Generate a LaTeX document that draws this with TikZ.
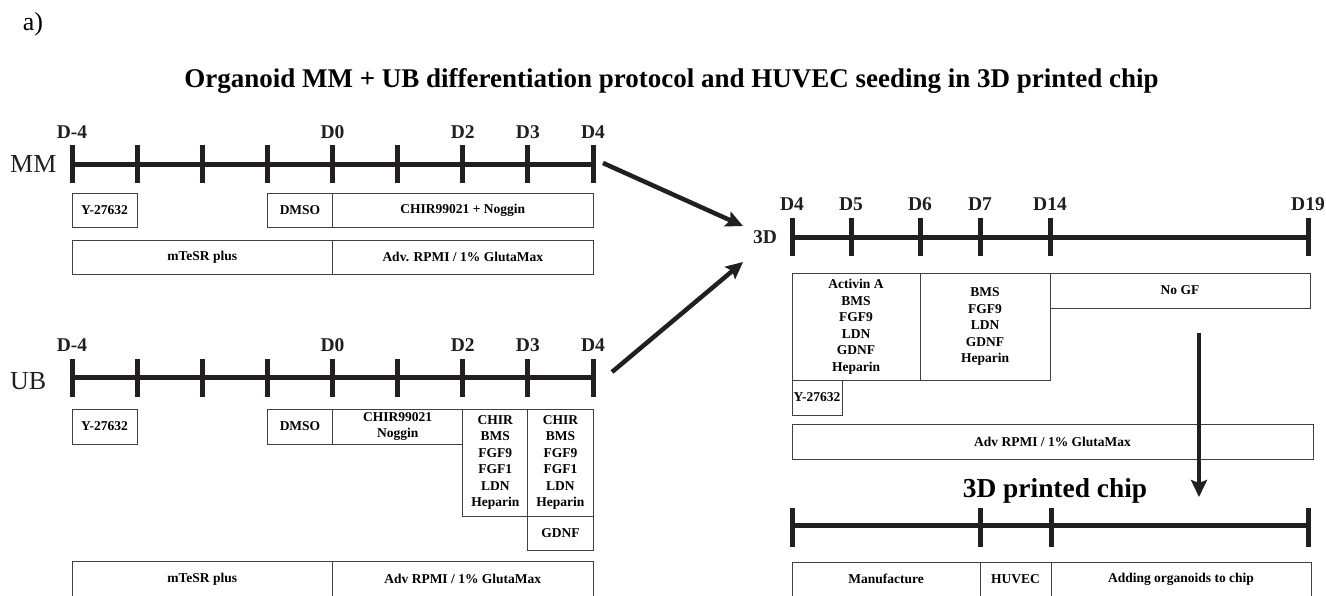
\documentclass[tikz,border=0pt]{standalone}
\usepackage{fontspec}
\setmainfont{Liberation Serif}
\usepackage{tikz}
\usetikzlibrary{positioning, arrows.meta}
\definecolor{lineBlack}{RGB}{35,31,32}
\definecolor{boxGrey}{RGB}{64,64,64}
\tikzstyle{timeLine} = [
    draw=lineBlack,
    line width=5pt
    ]
\tikzstyle{tickLine} = [
    draw=lineBlack,
    line width=5pt
    ]
\tikzstyle{dayLabel} = [
    inner sep=0pt,
    text=lineBlack,
    font=\bfseries\fontsize{19.5}{20}\selectfont
    ]
\tikzstyle{rowLabel} = [
    inner sep=0pt,
    anchor=west,
    text=lineBlack,
    font=\fontsize{26}{28}\selectfont
    ]
\tikzstyle{stepBox} = [
    rectangle,
    draw=boxGrey,
    line width=1pt,
    inner sep=0pt,
    align=center,
    font=\bfseries\fontsize{13.5}{16.5}\selectfont
    ]
\tikzstyle{flowArrow} = [
    draw=lineBlack,
    line width=4.5pt,
    -{Stealth[length=17pt, width=16pt, inset=3pt]}
    ]

\begin{document}
\begin{tikzpicture}[x=1pt, y=-1pt]
      \fill[white] (0,0) rectangle (1326,595);
      \useasboundingbox (0,0) rectangle (1326,595);
      \node[font=\fontsize{26}{28}\selectfont, inner sep=0pt] at (33,24) (panel) {a)};
      \node[font=\bfseries\fontsize{27}{30}\selectfont, anchor=base, inner sep=0pt] at (671.5,87) (title) {Organoid MM + UB differentiation protocol and HUVEC seeding in 3D printed chip};

      \node[rowLabel] at (10,164) (mmLabel) {MM};
      \draw[timeLine] (72,164) -- (593,164);
      \foreach \i in {0,...,8}
        \draw[tickLine] ({72+65.125*\i},145) -- ({72+65.125*\i},183);
      \foreach \x/\lab [count=\i] in {72/D-4, 332.5/D0, 462.8/D2, 527.9/D3, 593/D4}
        \node[dayLabel] at (\x,132) (mmDay\i) {\lab};
      \node[stepBox, minimum width=65pt, minimum height=34pt] at (104.5,210) (mmY) {Y-27632};
      \node[stepBox, minimum width=65pt, minimum height=34pt] at (300,210) (mmDmso) {DMSO};
      \node[stepBox, minimum width=260.5pt, minimum height=34pt] at (462.75,210) (mmChir) {CHIR99021 + Noggin};
      \node[stepBox, minimum width=260.5pt, minimum height=34pt] at (202.25,257) (mmMediumA) {mTeSR plus};
      \node[stepBox, minimum width=260.5pt, minimum height=34pt] at (462.75,257) (mmMediumB) {Adv. RPMI / 1\% GlutaMax};

      \node[rowLabel] at (10,381) (ubLabel) {UB};
      \draw[timeLine] (72,377) -- (593,377);
      \foreach \i in {0,...,8}
        \draw[tickLine] ({72+65.125*\i},359) -- ({72+65.125*\i},397);
      \foreach \x/\lab [count=\i] in {72/D-4, 332.5/D0, 462.8/D2, 527.9/D3, 593/D4}
        \node[dayLabel] at (\x,345) (ubDay\i) {\lab};
      \node[stepBox, minimum width=65pt, minimum height=35pt] at (104.5,426.5) (ubY) {Y-27632};
      \node[stepBox, minimum width=65pt, minimum height=35pt] at (300,426.5) (ubDmso) {DMSO};
      \node[stepBox, minimum width=130.3pt, minimum height=35pt] at (397.65,426.5) (ubChir) {CHIR99021\\Noggin};
      \node[stepBox, minimum width=65.1pt, minimum height=107pt] at (495.35,462.5) (ubMixA) {CHIR\\BMS\\FGF9\\FGF1\\LDN\\Heparin};
      \node[stepBox, minimum width=65.1pt, minimum height=107pt] at (560.45,462.5) (ubMixB) {CHIR\\BMS\\FGF9\\FGF1\\LDN\\Heparin};
      \node[stepBox, minimum width=65.1pt, minimum height=34pt] at (560.45,533) (ubGdnf) {GDNF};
      \node[stepBox, minimum width=260.5pt, minimum height=36pt] at (202.25,579) (ubMediumA) {mTeSR plus};
      \node[stepBox, minimum width=260.5pt, minimum height=36pt] at (462.75,579) (ubMediumB) {Adv RPMI / 1\% GlutaMax};

      \coordinate (mmOut) at (603,163);
      \coordinate (ubOut) at (612,372);
      \coordinate (tdInTop) at (743,226);
      \coordinate (tdInBottom) at (743,262);
      \draw[flowArrow] (mmOut) -- (tdInTop);
      \draw[flowArrow] (ubOut) -- (tdInBottom);

      \node[dayLabel] at (765,237) (tdLabel) {3D};
      \draw[timeLine] (792,237) -- (1308,237);
      \foreach \x/\lab [count=\i] in {792/D4, 851/D5, 920/D6, 980/D7, 1050/D14, 1308/D19} {
        \draw[tickLine] (\x,218) -- (\x,256);
        \node[dayLabel] at (\x,204) (tdDay\i) {\lab};
      }
      \node[stepBox, minimum width=128pt, minimum height=107pt] at (856,326.5) (tdMixA) {Activin A\\BMS\\FGF9\\LDN\\GDNF\\Heparin};
      \node[stepBox, minimum width=130pt, minimum height=107pt] at (985,326.5) (tdMixB) {BMS\\FGF9\\LDN\\GDNF\\Heparin};
      \node[stepBox, minimum width=260pt, minimum height=35pt] at (1180,290.5) (tdNoGf) {No GF};
      \node[stepBox, minimum width=50pt, minimum height=35pt] at (817,397.5) (tdY) {Y-27632};
      \node[stepBox, minimum width=521pt, minimum height=35pt] at (1052.5,441.5) (tdMedium) {Adv RPMI / 1\% GlutaMax};

      \coordinate (gfDown) at (1199,333);
      \coordinate (chipIn) at (1199,497);
      \draw[flowArrow, line width=4pt] (gfDown) -- (chipIn);

      \node[font=\bfseries\fontsize{27.4}{30}\selectfont, anchor=base, inner sep=0pt] at (1055,497) (chipTitle) {3D printed chip};
      \draw[timeLine] (792,525) -- (1308,525);
      \foreach \x in {792, 980, 1051, 1308}
        \draw[tickLine] (\x,508) -- (\x,547);
      \node[stepBox, minimum width=188pt, minimum height=34pt] at (886,579) (chipMake) {Manufacture};
      \node[stepBox, minimum width=71pt, minimum height=34pt] at (1015.5,579) (chipHuvec) {HUVEC};
      \node[stepBox, minimum width=260pt, minimum height=34pt] at (1181,579) (chipAdd) {Adding organoids to chip};
    \end{tikzpicture}
\end{document}
